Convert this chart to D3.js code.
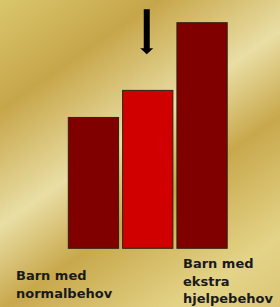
<!DOCTYPE html>
<html>
<head>
<meta charset="utf-8">
<script src="https://cdn.jsdelivr.net/npm/d3@7"></script>
<style>
  html, body { margin: 0; padding: 0; }
  svg { display: block; }
</style>
</head>
<body>
<div id="chart"></div>
<script>
// chart data
var categories = ['normal', 'marked', 'ekstra'];
var labels = [['Barn med', 'normalbehov'], [], ['Barn med', 'ekstra', 'hjelpebehov']];
var values = [58, 70, 100];
var barColors = ['#800000', '#d00000', '#800000'];
// arrow above the middle bar, in value units
var arrowCat = 'marked';
var arrowFrom = 106, arrowTo = 86;

var W = 280, H = 307;

var svg = d3.select('#chart').append('svg')
    .attr('width', W)
    .attr('height', H);

// gold background
var defs = svg.append('defs');
var grad = defs.append('linearGradient')
    .attr('id', 'gold')
    .attr('gradientUnits', 'userSpaceOnUse')
    .attr('x1', 0).attr('y1', 0)
    .attr('x2', 0.57 * 412).attr('y2', 0.82 * 412);
[[0, '#d9c66c'], [0.22, '#c7a64a'], [0.45, '#e9dea4'], [0.62, '#c8a84c'], [0.86, '#e4d488'], [1, '#dcc676']]
    .forEach(function(s) {
        grad.append('stop').attr('offset', s[0]).attr('stop-color', s[1]);
    });
svg.append('rect')
    .attr('width', W).attr('height', H)
    .attr('fill', 'url(#gold)');

var x = d3.scaleBand()
    .domain(categories)
    .range([68.3, 227.2])
    .paddingInner(0.074)
    .paddingOuter(0);

var y = d3.scaleLinear()
    .domain([0, 100])
    .range([248.3, 22.7]);

svg.selectAll('rect.bar')
    .data(values)
    .enter().append('rect')
    .attr('class', 'bar')
    .attr('x', function(d, i) { return x(categories[i]); })
    .attr('y', function(d) { return y(d); })
    .attr('width', x.bandwidth())
    .attr('height', function(d) { return y(0) - y(d); })
    .attr('fill', function(d, i) { return barColors[i]; })
    .attr('stroke', '#2a2410')
    .attr('stroke-width', 1);

// arrow
var ax = x(arrowCat) + x.bandwidth() / 2 - 1;
var arrTop = y(arrowFrom), arrTip = y(arrowTo);
var headH = 6, sw = 3, hw = 6.5;
svg.append('path')
    .attr('d', 'M' + (ax - sw) + ',' + arrTop +
        'L' + (ax + sw) + ',' + arrTop +
        'L' + (ax + sw) + ',' + (arrTip - headH) +
        'L' + (ax + hw) + ',' + (arrTip - headH) +
        'L' + ax + ',' + arrTip +
        'L' + (ax - hw) + ',' + (arrTip - headH) +
        'L' + (ax - sw) + ',' + (arrTip - headH) + 'Z')
    .attr('fill', '#000');

// category labels
var labelX = [16, null, 183];
var labelY = [280, null, 268];
labels.forEach(function(lines, i) {
    if (!lines.length) return;
    var t = svg.append('text')
        .attr('x', labelX[i])
        .attr('y', labelY[i])
        .attr('font-family', 'DejaVu Sans, Verdana, sans-serif')
        .attr('font-weight', 'bold')
        .attr('font-size', '13px')
        .attr('fill', '#1a1a1a');
    lines.forEach(function(l, j) {
        t.append('tspan')
            .attr('x', labelX[i])
            .attr('dy', j === 0 ? 0 : 17.6)
            .text(l);
    });
});
</script>
</body>
</html>
